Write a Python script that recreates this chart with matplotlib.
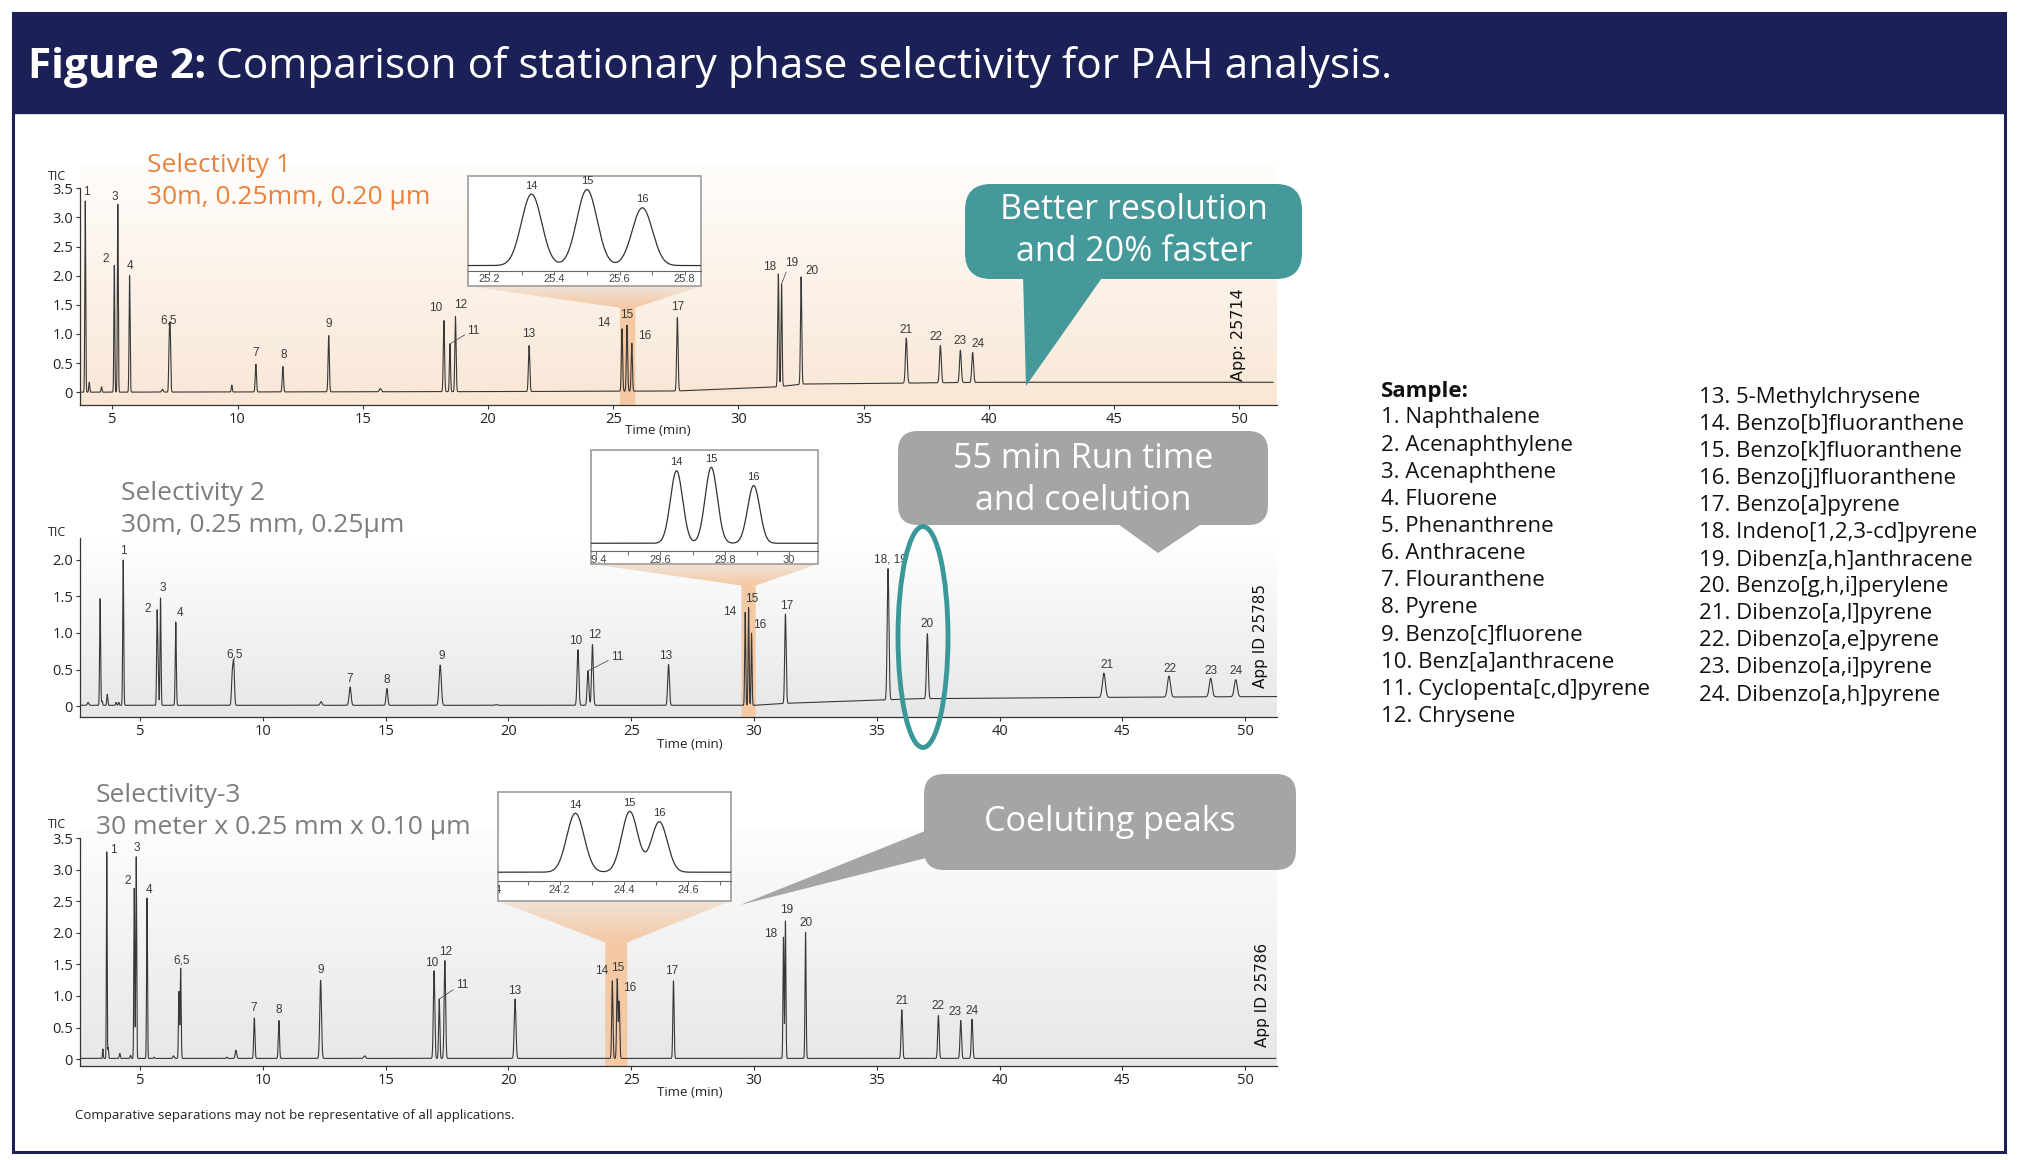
import numpy as np
import matplotlib
matplotlib.use("Agg")
import matplotlib.pyplot as plt
from matplotlib import font_manager
from matplotlib.colors import LinearSegmentedColormap
from matplotlib.patches import Rectangle, Polygon, FancyBboxPatch, Ellipse
from matplotlib.transforms import Affine2D, blended_transform_factory
from matplotlib.ticker import FuncFormatter

# ---------------- values ----------------
# Selectivity 1: retention time (min), apex height (TIC), peak sigma (min), peak label
s1_times = [3.92, 4.08, 4.57, 5.08, 5.22, 5.69, 7.00, 7.27, 7.31, 9.77, 10.73, 11.81, 13.64, 15.70,
            18.24, 18.48, 18.70, 21.64, 25.35, 25.55, 25.74, 27.56, 31.59, 31.72, 32.50,
            36.70, 38.06, 38.86, 39.35]
s1_heights = [3.28, 0.17, 0.09, 2.18, 3.23, 2.00, 0.05, 0.78, 1.06, 0.12, 0.48, 0.44, 0.97, 0.06,
              1.23, 0.83, 1.30, 0.80, 1.09, 1.15, 0.84, 1.28, 2.03, 1.86, 1.98,
              0.93, 0.80, 0.72, 0.68]
s1_widths = [0.018, 0.02, 0.02, 0.018, 0.018, 0.02, 0.03, 0.02, 0.022, 0.02, 0.025, 0.025, 0.025, 0.04,
             0.025, 0.022, 0.025, 0.028, 0.025, 0.025, 0.025, 0.028, 0.025, 0.022, 0.025,
             0.035, 0.035, 0.035, 0.035]
s1_labels = ['1', '', '', '2', '3', '4', '', '', '6,5', '', '7', '8', '9', '',
             '10', '11', '12', '13', '14', '15', '16', '17', '18', '19', '20',
             '21', '22', '23', '24']
s1_base_t = [3.7, 20.0, 27.5, 31.5, 32.6, 36.5, 40.0, 51.4]
s1_base_y = [0.0, 0.01, 0.02, 0.09, 0.14, 0.155, 0.17, 0.17]

# Selectivity 2
s2_times = [2.88, 3.37, 3.45, 3.66, 4.02, 4.13, 4.31, 5.69, 5.73, 5.83, 6.45, 8.75, 8.81, 12.37,
            13.55, 15.05, 17.22, 19.50, 22.83, 23.24, 23.42, 26.52, 29.64, 29.78, 29.90, 31.28,
            35.46, 37.06, 44.25, 46.90, 48.60, 49.62]
s2_heights = [0.05, 1.47, 0.07, 0.16, 0.05, 0.05, 2.00, 1.24, 0.53, 1.48, 1.15, 0.41, 0.57, 0.06,
              0.26, 0.24, 0.56, 0.02, 0.77, 0.48, 0.84, 0.57, 1.28, 1.35, 1.00, 1.26,
              1.88, 0.99, 0.45, 0.41, 0.38, 0.36]
s2_widths = [0.03, 0.02, 0.02, 0.02, 0.02, 0.02, 0.02, 0.02, 0.02, 0.02, 0.022, 0.03, 0.03, 0.04,
             0.04, 0.035, 0.045, 0.04, 0.035, 0.035, 0.035, 0.035, 0.02, 0.02, 0.02, 0.03,
             0.035, 0.035, 0.06, 0.06, 0.06, 0.06]
s2_labels = ['', '', '', '', '', '', '1', '2', '', '3', '4', '', '6,5', '',
             '7', '8', '9', '', '10', '11', '12', '13', '14', '15', '16', '17',
             '18, 19', '20', '21', '22', '23', '24']
s2_base_t = [2.55, 30.0, 31.5, 35.0, 36.5, 45.0, 51.3]
s2_base_y = [0.01, 0.01, 0.04, 0.08, 0.10, 0.12, 0.13]

# Selectivity 3
s3_times = [3.48, 3.64, 3.70, 4.17, 4.61, 4.76, 4.84, 5.28, 5.57, 6.36, 6.58, 6.65, 8.53, 8.90,
            9.65, 10.65, 12.35, 14.14, 16.97, 17.18, 17.41, 20.27, 24.23, 24.43, 24.51, 26.72,
            31.20, 31.28, 32.10, 36.02, 37.51, 38.42, 38.88]
s3_heights = [0.16, 3.29, 0.18, 0.09, 0.06, 2.71, 3.21, 2.55, 0.03, 0.05, 1.07, 1.44, 0.03, 0.14,
              0.65, 0.61, 1.25, 0.05, 1.40, 0.95, 1.56, 0.95, 1.24, 1.27, 0.91, 1.24,
              1.93, 2.19, 2.01, 0.78, 0.69, 0.61, 0.63]
s3_widths = [0.015, 0.015, 0.015, 0.02, 0.02, 0.018, 0.018, 0.018, 0.02, 0.03, 0.02, 0.02, 0.02, 0.03,
             0.025, 0.025, 0.035, 0.04, 0.03, 0.025, 0.03, 0.035, 0.025, 0.025, 0.025, 0.025,
             0.02, 0.02, 0.022, 0.03, 0.03, 0.03, 0.03]
s3_labels = ['', '1', '', '', '', '2', '3', '4', '', '', '', '6,5', '', '',
             '7', '8', '9', '', '10', '11', '12', '13', '14', '15', '16', '17',
             '18', '19', '20', '21', '22', '23', '24']
s3_base_t = [2.55, 51.3]
s3_base_y = [0.01, 0.01]

# zoomed insets (peaks 14, 15, 16), heights relative to the tallest
in1_times = [25.33, 25.50, 25.67]
in1_heights = [0.94, 1.00, 0.76]
in1_widths = [0.031, 0.031, 0.031]
in2_times = [29.65, 29.758, 29.89]
in2_heights = [0.955, 1.00, 0.76]
in2_widths = [0.019, 0.019, 0.019]
in3_times = [24.249, 24.418, 24.51]
in3_heights = [0.97, 1.00, 0.83]
in3_widths = [0.027, 0.025, 0.025]
inset_labels = ['14', '15', '16']

in1_ticks = [25.2, 25.4, 25.6, 25.8]
in2_ticks = [29.4, 29.6, 29.8, 30.0]
in3_ticks = [24.0, 24.2, 24.4, 24.6]

x_ticks = [5, 10, 15, 20, 25, 30, 35, 40, 45, 50]
s1_yticks = [0, 0.5, 1.0, 1.5, 2.0, 2.5, 3.0, 3.5]
s2_yticks = [0, 0.5, 1.0, 1.5, 2.0]
s3_yticks = [0, 0.5, 1.0, 1.5, 2.0, 2.5, 3.0, 3.5]

sample_names = ['Naphthalene', 'Acenaphthylene', 'Acenaphthene', 'Fluorene', 'Phenanthrene',
                'Anthracene', 'Flouranthene', 'Pyrene', 'Benzo[c]fluorene', 'Benz[a]anthracene',
                'Cyclopenta[c,d]pyrene', 'Chrysene', '5-Methylchrysene', 'Benzo[b]fluoranthene',
                'Benzo[k]fluoranthene', 'Benzo[j]fluoranthene', 'Benzo[a]pyrene',
                'Indeno[1,2,3-cd]pyrene', 'Dibenz[a,h]anthracene', 'Benzo[g,h,i]perylene',
                'Dibenzo[a,l]pyrene', 'Dibenzo[a,e]pyrene', 'Dibenzo[a,i]pyrene', 'Dibenzo[a,h]pyrene']

# ---------------- label placement (offsets in points) ----------------
s1_offsets = {'1': (1, 2), '2': (-6, 0), '3': (-2, 1), '4': (0, 2.5), '6,5': (-1, 2.5), '7': (0, 4),
              '8': (0.5, 4), '9': (0, 4), '10': (-6, 4.5), '11': (17, 5), '12': (3.5, 4), '13': (0, 4),
              '14': (-13.5, 0), '15': (0, 3), '16': (9, 1), '17': (0, 3.5), '18': (-6, 0.5),
              '19': (7, 10.5), '20': (8, 0), '21': (0, 1.5), '22': (-3, 2), '23': (0, 2.5), '24': (4, 2)}
s2_offsets = {'1': (0, 2), '2': (-7, 0), '3': (1.5, 2.5), '4': (3, 2.5), '6,5': (1, 2.5), '7': (0, 1.5),
              '8': (0, 2), '9': (1, 2), '10': (-2, 2), '11': (21, 6), '12': (1.5, 2.5), '13': (-2, 1.5),
              '14': (-11, -4), '15': (2, 2), '16': (6, 1.5), '17': (1, 1.5), '18, 19': (2, 2),
              '20': (0, 2.5), '21': (2.5, 1.5), '22': (0.5, 1), '23': (0, 1.2), '24': (0.5, 2)}
s3_offsets = {'1': (5, -3.5), '2': (-5, 1), '3': (0.5, 2), '4': (1.5, 1.5), '6,5': (1, 1.5),
              '7': (-0.5, 3), '8': (0, 3.4), '9': (0, 3), '10': (-1.4, 1.2), '11': (16.5, 5.5),
              '12': (0.6, 1.7), '13': (0, 1.2), '14': (-8, 2.4), '15': (0, 3.6), '16': (7.8, 5.5),
              '17': (-1, 3), '18': (-9, -2), '19': (0.5, 3.5), '20': (0, 2), '21': (0, 2.4),
              '22': (0, 2.4), '23': (-4.5, 2), '24': (0, 2)}
s1_leaders = {'11': (0.0, 0.3), '19': (0.2, 0.0)}
s2_leaders = {'11': (0.0, 0.3)}
s3_leaders = {'11': (0.0, 0.3)}

# ---------------- fonts / colours ----------------
installed = {f.name for f in font_manager.fontManager.ttflist}
TXT = 'Open Sans'
if 'Liberation Sans Narrow' in installed:
    TITLE_FONT, TITLE_SIZE = 'Liberation Sans Narrow', 36
else:
    TITLE_FONT, TITLE_SIZE = 'Open Sans', 30.5
PEAK_FONT = 'Liberation Sans'
NAVY = '#1b2157'
ORANGE = '#e8823d'
GREY_TXT = '#7d7d7d'
TEAL = '#45999a'
CALLOUT_GREY = '#a5a5a5'
TRACE = '#383838'

W, H = 2018, 1160
fig = plt.figure(figsize=(W / 100, H / 100), dpi=100)
fig.patch.set_facecolor('white')
# reference pixel coordinates: origin top-left, y downwards
px = Affine2D().scale(1 / 100, -1 / 100).translate(0, H / 100) + fig.dpi_scale_trans


def add_px_axes(l, t, r, b):
    return fig.add_axes([l / W, 1 - b / H, (r - l) / W, (b - t) / H])


def draw_panel(ax, times, heights, widths, labels, base_t, base_y, xlim, ylim, t_end,
               yticks, spine_top, grad, offsets, leaders):
    cmap = LinearSegmentedColormap.from_list('bg', grad)
    ax.imshow(np.linspace(0, 1, 256).reshape(-1, 1), cmap=cmap, aspect='auto', origin='upper',
              extent=(xlim[0], xlim[1], ylim[0], ylim[1]), zorder=0, interpolation='bilinear')
    t = np.arange(xlim[0], t_end, 0.003)
    y = np.interp(t, base_t, base_y)
    for tc, h, w in zip(times, heights, widths):
        y = y + (h - np.interp(tc, base_t, base_y)) * np.exp(-0.5 * ((t - tc) / w) ** 2)
    ax.plot(t, y, color=TRACE, lw=0.8, zorder=3)
    for tc, h, lab in zip(times, heights, labels):
        if not lab:
            continue
        dx, dy = offsets.get(lab, (0, 2))
        kw = dict(xytext=(dx, dy), textcoords='offset points', ha='center', va='bottom',
                  fontsize=8.5, color='#3a3a3a', family=PEAK_FONT, zorder=4)
        if lab in leaders:
            kw['arrowprops'] = dict(arrowstyle='-', lw=0.6, color='#555555', shrinkA=0, shrinkB=0,
                                    relpos=leaders[lab])
        ax.annotate(lab, (tc, h), **kw)
    ax.set_xlim(xlim)
    ax.set_ylim(ylim)
    for s in ['top', 'right']:
        ax.spines[s].set_visible(False)
    for s in ['left', 'bottom']:
        ax.spines[s].set_color('#333333')
        ax.spines[s].set_linewidth(0.9)
    ax.spines['left'].set_bounds(ylim[0], spine_top)
    ax.set_xticks(x_ticks)
    ax.set_yticks(yticks)
    ax.yaxis.set_major_formatter(FuncFormatter(lambda v, _: '0' if v == 0 else f'{v:.1f}'))
    ax.tick_params(length=3, width=0.8, color='#333333', labelsize=10.5, pad=2, labelcolor='#222222')
    for lab in ax.get_xticklabels() + ax.get_yticklabels():
        lab.set_family(TXT)


def draw_inset(main_ax, box, xlim, ylim, axis_frac, times, heights, widths, ticks, band, band_top):
    l, t, r, b = box
    ins = add_px_axes(l, t, r, b)
    ins.set_zorder(4)
    tt = np.linspace(xlim[0], xlim[1], 900)
    yy = np.zeros_like(tt)
    for tc, h, w in zip(times, heights, widths):
        yy = yy + h * np.exp(-0.5 * ((tt - tc) / w) ** 2)
    ins.plot(tt, yy, color='#333333', lw=0.9)
    for tc, h, lab in zip(times, heights, inset_labels):
        ins.annotate(lab, (tc, h), xytext=(0, 2.5), textcoords='offset points', ha='center',
                     va='bottom', fontsize=8, color='#333333', family=PEAK_FONT)
    ins.set_xlim(xlim)
    ins.set_ylim(ylim)
    for s in ['top', 'left', 'right']:
        ins.spines[s].set_visible(False)
    ins.spines['bottom'].set_position(('axes', axis_frac))
    ins.spines['bottom'].set_color('#666666')
    ins.spines['bottom'].set_linewidth(0.8)
    ins.set_yticks([])
    step = ticks[1] - ticks[0]
    all_ticks = [ticks[0] + k * step / 2 for k in range(-1, 2 * len(ticks) + 1)]
    ins.set_xticks([v for v in all_ticks if xlim[0] < v < xlim[1]])
    ins.tick_params(axis='x', length=3, width=0.7, color='#666666', labelbottom=False)
    tr = blended_transform_factory(ins.transData, ins.transAxes)
    for v in ticks:
        ins.text(v, axis_frac - 0.035, f'{v:g}', transform=tr, ha='center', va='top', fontsize=8,
                 color='#444444', family=PEAK_FONT, clip_on=True)
    ins.add_patch(Rectangle((0, 0), 1, 1, transform=ins.transAxes, fill=False, ec='#9c9c9c',
                            lw=1.2, clip_on=False))

    # funnel from the inset down to the highlighted band of the main trace
    inv = main_ax.transData.inverted()
    (x0, y0), (x1, _) = inv.transform(px.transform([(l, b), (r, b)]))
    lo, hi = band
    ybot = main_ax.get_ylim()[0]
    verts = [(x0, y0), (x1, y0), (hi, band_top), (hi, ybot), (lo, ybot), (lo, band_top)]
    poly = Polygon(verts, closed=True, fc='none', ec='none')
    main_ax.add_patch(poly)
    ys = np.linspace(y0, ybot, 256)
    frac = np.clip((y0 - ys) / (y0 - band_top), 0, 1).reshape(-1, 1)
    fcmap = LinearSegmentedColormap.from_list('fun', ['#f0e2d6', '#f5c9a4'])
    img = main_ax.imshow(frac, cmap=fcmap, vmin=0, vmax=1, aspect='auto', origin='upper',
                         extent=(x0, x1, ybot, y0), zorder=1)
    img.set_clip_path(poly)
    xl, yl = main_ax.get_xlim(), main_ax.get_ylim()
    main_ax.set_xlim(xl)
    main_ax.set_ylim(yl)


# ---------------- frame and title ----------------
fig.add_artist(Rectangle((13, 13), 1992, 1139, transform=px, fill=False, ec=NAVY, lw=2.2, zorder=0))
fig.add_artist(Rectangle((13, 13), 1992, 100, transform=px, fc=NAVY, ec=NAVY, lw=1, zorder=0))
t1 = fig.text(28, 78, 'Figure 2:', transform=px, color='white', fontsize=TITLE_SIZE,
              family=TITLE_FONT, weight='bold', va='baseline', ha='left')
bb = t1.get_window_extent(fig.canvas.get_renderer())
fig.text(bb.x1 + 10, 78, 'Comparison of stationary phase selectivity for PAH analysis.',
         transform=px, color='white', fontsize=TITLE_SIZE, family=TITLE_FONT, va='baseline', ha='left')

# ---------------- chromatogram panels ----------------
ax1 = add_px_axes(80, 165, 1277, 405)
draw_panel(ax1, s1_times, s1_heights, s1_widths, s1_labels, s1_base_t, s1_base_y,
           (3.71, 51.5), (-0.22, 3.9), 51.35, s1_yticks, 3.5, ['#fffdfb', '#f9e7d6'],
           s1_offsets, s1_leaders)
ax2 = add_px_axes(80, 538, 1277, 717)
draw_panel(ax2, s2_times, s2_heights, s2_widths, s2_labels, s2_base_t, s2_base_y,
           (2.55, 51.3), (-0.15, 2.3), 51.28, s2_yticks, 2.3, ['#ffffff', '#e6e7e8'],
           s2_offsets, s2_leaders)
ax3 = add_px_axes(80, 830, 1277, 1066)
draw_panel(ax3, s3_times, s3_heights, s3_widths, s3_labels, s3_base_t, s3_base_y,
           (2.55, 51.3), (-0.11, 3.63), 51.25, s3_yticks, 3.5, ['#fdfdfd', '#e6e7e8'],
           s3_offsets, s3_leaders)

draw_inset(ax1, (468, 176, 701, 286), (25.135, 25.85), (-0.269, 1.178), 0.14,
           in1_times, in1_heights, in1_widths, in1_ticks, (25.27, 25.88), 1.45)
draw_inset(ax2, (591, 450, 818, 564), (29.384, 30.09), (-0.273, 1.228), 0.115,
           in2_times, in2_heights, in2_widths, in2_ticks, (29.49, 30.07), 1.65)
draw_inset(ax3, (498, 792, 731, 901), (24.008, 24.733), (-0.474, 1.32), 0.18,
           in3_times, in3_heights, in3_widths, in3_ticks, (23.94, 24.84), 1.85)

# panel texts
for (x, y1, y2, c, l1, l2) in [(147, 165, 198, ORANGE, 'Selectivity 1', '30m, 0.25mm, 0.20 µm'),
                               (121, 494, 526, GREY_TXT, 'Selectivity 2', '30m, 0.25 mm, 0.25µm'),
                               (96, 795, 827, GREY_TXT, 'Selectivity-3', '30 meter x 0.25 mm x 0.10 µm')]:
    fig.text(x, y1, l1, transform=px, color=c, fontsize=19, family=TXT, va='center', ha='left', zorder=6)
    fig.text(x, y2, l2, transform=px, color=c, fontsize=19, family=TXT, va='center', ha='left', zorder=6)

for y in [176, 533, 825]:
    fig.text(48, y, 'TIC', transform=px, fontsize=9, family=TXT, va='center', ha='left', color='#222222')
for x, y in [(658, 430), (690, 745), (690, 1092)]:
    fig.text(x, y, 'Time (min)', transform=px, fontsize=9.5, family=TXT, va='center', ha='center',
             color='#222222')
for x, y, s, fs in [(1239, 335, 'App: 25714', 11.5), (1261, 636, 'App ID 25785', 11),
                    (1262, 995, 'App ID 25786', 11)]:
    fig.text(x, y, s, transform=px, rotation=90, fontsize=fs, family='DejaVu Sans', va='center',
             ha='center', color='#111111', zorder=6)

fig.text(75, 1116, 'Comparative separations may not be representative of all applications.',
         transform=px, fontsize=9.5, family=TXT, va='center', ha='left', color='#222222')


# ---------------- callouts ----------------
def callout(box, pointer, color, lines, cx, ys, radius):
    l, t, r, b = box
    fig.add_artist(FancyBboxPatch((l, t), r - l, b - t, boxstyle=f'round,pad=0,rounding_size={radius}',
                                  transform=px, fc=color, ec='none', zorder=7))
    fig.add_artist(Polygon(pointer, closed=True, transform=px, fc=color, ec='none', zorder=7))
    for s, y in zip(lines, ys):
        fig.text(cx, y, s, transform=px, color='white', fontsize=24.5, family=TXT, ha='center',
                 va='center', zorder=8)


callout((965, 184, 1302, 279), [(1023, 275), (1104, 275), (1026, 386)], TEAL,
        ['Better resolution', 'and 20% faster'], 1134, [210, 252], 26)
callout((898, 431, 1268, 525), [(1114, 521), (1206, 521), (1158, 553)], CALLOUT_GREY,
        ['55 min Run time', 'and coelution'], 1083, [459, 501], 20)
callout((924, 774, 1296, 870), [(930, 829), (930, 857), (740, 905)], CALLOUT_GREY,
        ['Coeluting peaks'], 1110, [822], 20)

fig.add_artist(Ellipse((923, 637), 50, 221, transform=px, fill=False, ec='#3a9898', lw=3.5, zorder=7))

# ---------------- sample list ----------------
fig.text(1381, 391, 'Sample:', transform=px, fontsize=16, family=TXT, weight='bold', va='center',
         ha='left', color='#111111')
for i, name in enumerate(sample_names):
    if i < 12:
        x, y = 1381, 418 + 27.1 * i
    else:
        x, y = 1699, 397 + 27.1 * (i - 12)
    fig.text(x, y, f'{i + 1}. {name}', transform=px, fontsize=16, family=TXT, va='center', ha='left',
             color='#111111')

fig.savefig('out.png', dpi=100)
